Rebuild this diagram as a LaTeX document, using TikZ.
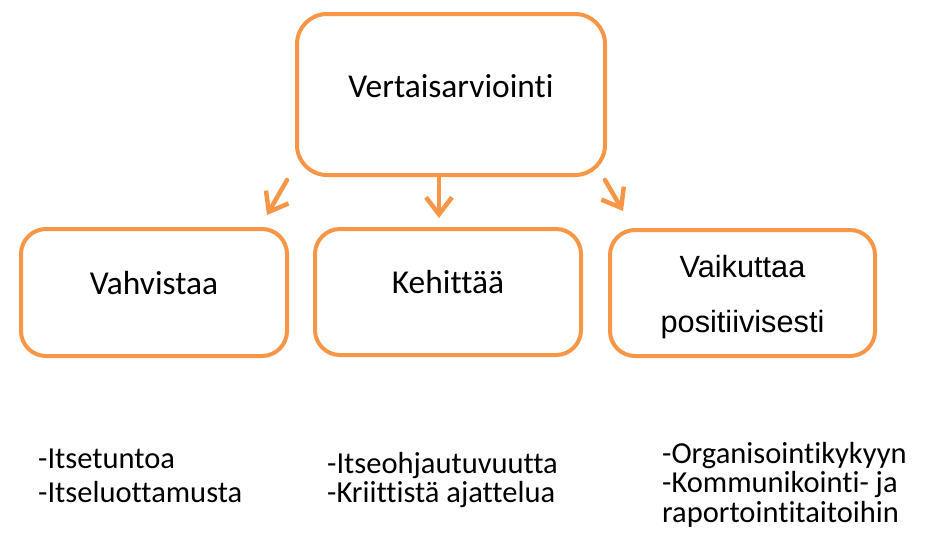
\documentclass[tikz,border=0pt]{standalone}
\usepackage{fontspec}
\setmainfont{Carlito}[Ligatures=NoCommon]
\newfontfamily\arialfont{Liberation Sans}
\usetikzlibrary{arrows.meta}
\definecolor{boxorange}{HTML}{F79646}

\begin{document}
\begin{tikzpicture}[x=1pt,y=-1pt,->,>={Straight Barb[length=17pt,width=26pt]},
  main node/.style={rectangle,rounded corners=25pt,draw=boxorange,line width=4pt,minimum width=266pt,minimum height=126pt,inner sep=0pt,font=\fontsize{33.4}{40}\selectfont,text height=22pt,text depth=19pt},
  list node/.style={anchor=base west,align=left,inner sep=0pt,font=\fontsize{30.5}{29.5}\selectfont},
  link/.style={draw=boxorange,line width=4.5pt,line cap=round,line join=round}]

  \useasboundingbox (0,0) rectangle (938,539);

  \node[main node,minimum width=308pt,minimum height=161pt,rounded corners=30pt,text depth=17pt] (0) at (451,94.5) {Vertaisarviointi};
  \node[main node,minimum height=127pt] (1) at (154,292.5) {Vahvistaa};
  \node[main node] (2) at (448,292) {Kehittää};
  \node[main node,minimum width=265pt,align=center,text height=78pt,text depth=0pt,font=\arialfont\fontsize{30.7}{55}\selectfont] (3) at (742.5,293) {Vaikuttaa\\positiivisesti};

  % lists, anchored at the last line
  \node[list node,font=\fontsize{30.5}{34}\selectfont] (4) at (38,502) {-Itsetuntoa\\-Itseluottamusta};
  \node[list node] (5) at (327,502.5) {-Itseohjautuvuutta\\-Kriittistä ajattelua};
  \node[list node] (6) at (662,522) {-Organisointikykyyn\\-Kommunikointi- ja\\raportointitaitoihin};

    \path[every edge/.style=link]
     ([shift={(-8,3)}]0.south west) edge ([shift={(-22,-12)}]1.north east)
     ([xshift=-12]0.south) edge ([shift={(-9,-9)}]2.north)
     ([shift={(-2,3)}]0.south east) edge ([shift={(15,-17)}]3.north west)
;
\end{tikzpicture}
\end{document}
